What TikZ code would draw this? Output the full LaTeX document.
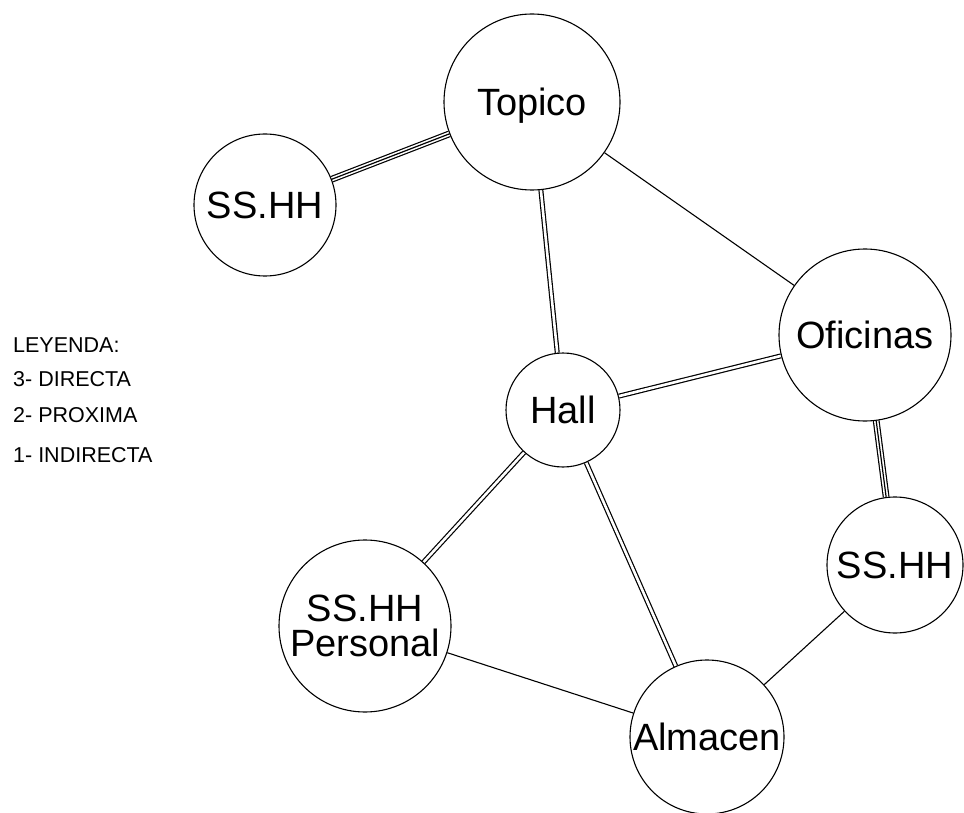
\documentclass[tikz,border=0pt]{standalone}
\usepackage{fontspec}
\setmainfont{Liberation Sans}
\usetikzlibrary{backgrounds}
\begin{document}
\begin{tikzpicture}[x=1pt,y=-1pt,
  room/.style={circle,draw,line width=1.1pt,fill=white,inner sep=0pt,
    align=center,text depth=0pt,font=\fontsize{38}{35}\selectfont},
  legend/.style={anchor=base west,inner sep=0pt,font=\fontsize{21.5}{24}\selectfont},
  link1/.style={draw=black,line width=1.1pt},
  link2/.style={draw=black,line width=5pt,
    postaction={draw=white,line width=2.6pt}},
  link3/.style={draw=black,line width=6.8pt,
    postaction={draw=white,line width=4.4pt},
    postaction={draw=black,line width=1.2pt}}]
\useasboundingbox (0,0) rectangle (964,813);

% rooms
\node[room,minimum size=176pt] (topico) at (532,102) {Topico};
\node[room,minimum size=142pt] (sshh1) at (265,205) {SS.HH};
\node[room,minimum size=172pt] (ofic) at (865,335) {Oficinas};
\node[room,minimum size=114pt] (hall) at (563,410) {Hall};
\node[room,minimum size=136pt] (sshh2) at (895,565) {SS.HH};
\node[room,minimum size=172pt] (pers) at (365,626) {SS.HH\\Personal};
\node[room,minimum size=154pt] (alm) at (707,737) {Almacen};

% connections, drawn beneath the circles
\begin{scope}[on background layer]
  \path[link3] (sshh1) -- (topico);
  \path[link3] (ofic) -- (sshh2);
  \path[link2] (topico) -- (hall);
  \path[link2] (hall) -- (ofic);
  \path[link2] (hall) -- (pers);
  \path[link2] (hall) -- (alm);
  \path[link1] (topico) -- (ofic);
  \path[link1] (pers) -- (alm);
  \path[link1] (sshh2) -- (alm);
\end{scope}

% legend
\node[legend] (leg0) at (13,352) {LEYENDA:};
\node[legend] (leg3) at (13,386) {3- DIRECTA};
\node[legend] (leg2) at (13,422) {2- PROXIMA};
\node[legend] (leg1) at (13,462) {1- INDIRECTA};
\end{tikzpicture}
\end{document}
